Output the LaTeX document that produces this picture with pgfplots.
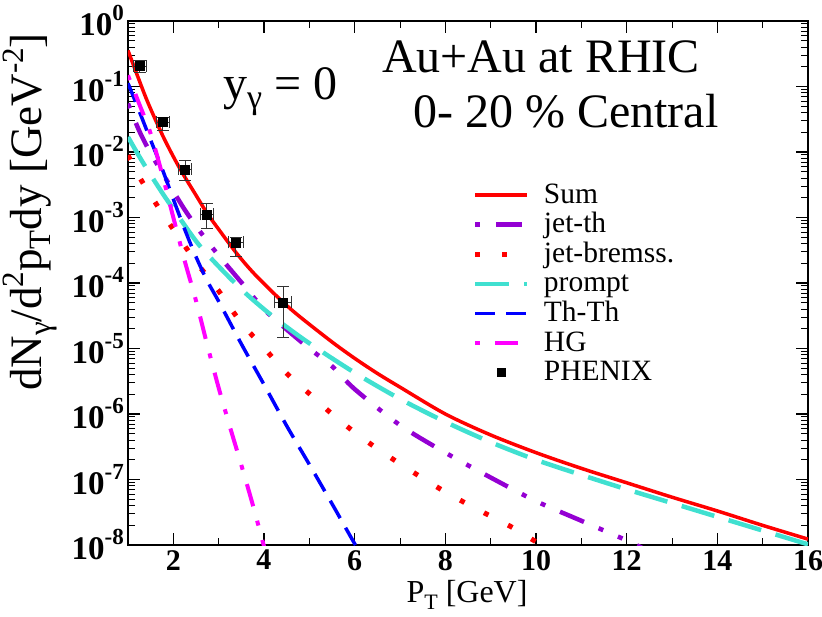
\documentclass[border=0pt]{standalone}
\usepackage{fontspec}
\setmainfont{Liberation Serif}
\usepackage{pgfplots}
\pgfplotsset{compat=1.18}
\usepackage{pgfplotstable}

\definecolor{cSum}{RGB}{255,0,0}
\definecolor{cJetTh}{RGB}{148,0,211}
\definecolor{cPrompt}{RGB}{64,224,208}
\definecolor{cThTh}{RGB}{0,0,255}
\definecolor{cHG}{RGB}{255,0,255}

\pgfplotstableread{
x y
1.0 0.3548
1.2 0.1514
1.4 0.06607
1.6 0.03162
1.8 0.01585
2.0 0.008511
2.2 0.004786
2.5 0.002188
2.74 0.001175
3.0 6.607e-4
3.4 2.818e-4
3.8 1.349e-4
4.4 5.248e-5
4.8 3.020e-5
5.5 1.259e-5
6.0 7.079e-6
6.5 4.169e-6
7.0 2.570e-6
8.0 1.0e-6
9.0 4.786e-7
10.0 2.570e-7
11.0 1.479e-7
12.0 8.913e-8
13.0 5.370e-8
14.0 3.311e-8
15.0 1.995e-8
16.0 1.230e-8
}\sumtab

\pgfplotstableread{
x y
1.0 0.05495
1.25 0.02089
1.5 0.009550
1.75 0.004898
2.0 0.002512
2.25 0.001318
2.5 7.413e-4
2.75 4.365e-4
3.0 2.630e-4
3.5 1.023e-4
4.0 3.981e-5
4.5 1.950e-5
5.0 1.0e-5
5.5 5.370e-6
6.0 2.399e-6
7.0 6.761e-7
8.0 2.570e-7
9.0 1.072e-7
10.0 4.677e-8
11.0 2.344e-8
12.0 1.175e-8
12.5 7.943e-9
}\jetthtab

\pgfplotstableread{
x y
1.0 0.008913
1.25 0.004169
1.5 0.002188
1.75 0.001175
2.0 6.607e-4
2.25 3.715e-4
2.5 2.089e-4
3.0 7.586e-5
3.5 2.455e-5
4.0 1.023e-5
4.5 4.169e-6
5.0 2.042e-6
5.5 1.0e-6
6.0 5.248e-7
6.5 2.951e-7
7.0 1.738e-7
7.5 1.047e-7
8.0 6.457e-8
8.5 4.169e-8
9.0 2.754e-8
9.5 1.820e-8
10.0 1.122e-8
10.3 8.913e-9
}\bremtab

\pgfplotstableread{
x y
1.0 0.01698
1.25 0.008511
1.5 0.004467
1.8 0.002138
2.1 0.001072
2.5 4.365e-4
2.8 2.512e-4
3.2 1.288e-4
3.6 6.918e-5
4.0 3.981e-5
4.4 2.399e-5
5.0 1.202e-5
6.0 4.266e-6
7.0 1.698e-6
8.0 7.586e-7
9.0 3.715e-7
10.0 1.995e-7
11.0 1.175e-7
12.0 7.079e-8
13.0 4.365e-8
14.0 2.692e-8
15.0 1.660e-8
16.0 1.023e-8
}\prompttab

\pgfplotstableread{
x y
1.0 0.1122
1.25 0.04169
1.5 0.01514
1.75 0.005623
2.0 0.001905
2.25 6.607e-4
2.5 2.512e-4
2.75 1.072e-4
3.0 5.248e-5
3.5 1.175e-5
4.0 2.818e-6
4.5 6.607e-7
5.0 1.698e-7
5.5 4.266e-8
6.0 1.047e-8
6.2 6.310e-9
}\ththtab

\pgfplotstableread{
x y
1.0 0.1479
1.25 0.05370
1.5 0.01905
1.75 0.004677
2.0 0.001
2.25 2.188e-4
2.5 5.370e-5
2.75 1.122e-5
3.0 2.512e-6
3.25 6.310e-7
3.5 1.660e-7
3.75 4.169e-8
4.0 9.550e-9
4.1 5.495e-9
}\hgtab

\pgfplotstableread{
x y ex eyp eym
1.26 0.205 0.15 0.048 0.039
1.77 0.0286 0.15 0.0054 0.007
2.26 5.46e-3 0.15 2.04e-3 1.76e-3
2.74 1.12e-3 0.15 5.3e-4 4.4e-4
3.38 4.18e-4 0.16 8.0e-5 1.63e-4
4.42 5.05e-5 0.18 3.85e-5 3.57e-5
}\phenixtab

\begin{document}
\begin{tikzpicture}
\begin{axis}[
  at={(0pt,0pt)}, anchor=south west,
  scale only axis, width=680pt, height=524pt,
  ymode=log, log basis y=10,
  xmin=1, xmax=16, ymin=1e-8, ymax=1,
  xtick={2,4,...,16}, minor xtick={1,3,...,15},
  ytick={1e-8,1e-7,1e-6,1e-5,1e-4,1e-3,1e-2,1e-1,1},
  minor ytick={2e-8,3e-8,4e-8,5e-8,6e-8,7e-8,8e-8,9e-8,
    2e-7,3e-7,4e-7,5e-7,6e-7,7e-7,8e-7,9e-7,
    2e-6,3e-6,4e-6,5e-6,6e-6,7e-6,8e-6,9e-6,
    2e-5,3e-5,4e-5,5e-5,6e-5,7e-5,8e-5,9e-5,
    2e-4,3e-4,4e-4,5e-4,6e-4,7e-4,8e-4,9e-4,
    2e-3,3e-3,4e-3,5e-3,6e-3,7e-3,8e-3,9e-3,
    2e-2,3e-2,4e-2,5e-2,6e-2,7e-2,8e-2,9e-2,
    0.2,0.3,0.4,0.5,0.6,0.7,0.8,0.9},
  tick align=inside, xtick pos=both, ytick pos=both,
  major tick length=12pt, minor tick length=7pt,
  major tick style={black, line width=1.2pt},
  minor tick style={black, line width=1pt},
  axis line style={line width=1.5pt},
  /pgf/number format/assume math mode=true,
  xticklabel style={font=\fontsize{30}{30}\selectfont\bfseries, inner sep=5pt},
  yticklabel={\textbf{10}\raisebox{15pt}{\fontsize{23}{23}\selectfont\bfseries\pgfmathparse{int(round(\tick))}\pgfmathresult}},
  yticklabel style={font=\fontsize{33}{33}\selectfont\bfseries, inner sep=4pt},
  legend style={at={(rel axis cs:0.507,0.695)}, anchor=north west, draw=none, fill=none,
    font=\fontsize{29.5}{29.5}\selectfont, row sep=1.6pt, column sep=14pt, inner sep=0pt,
    nodes={inner sep=0pt, text height=22pt, text depth=6pt}},
  legend cell align=left,
  legend image code/.code={\draw[#1] (0pt,0pt) -- (52pt,0pt);},
]
\addplot[cSum, line width=3.5pt, smooth] table {\sumtab};
\addlegendentry{Sum}
\addplot[cJetTh, line width=4.5pt, smooth, dash pattern=on 5pt off 16pt on 26pt off 16pt on 5pt off 16pt] table {\jetthtab};
\addlegendentry{jet-th}
\addplot[cSum, line width=5pt, smooth, dash pattern=on 5pt off 22pt] table {\bremtab};
\addlegendentry{jet-bremss.}
\addplot[cPrompt, line width=4.5pt, smooth, dash pattern=on 34pt off 15pt] table {\prompttab};
\addlegendentry{prompt}
\addplot[cThTh, line width=3.5pt, smooth, dash pattern=on 20pt off 11pt] table {\ththtab};
\addlegendentry{Th-Th}
\addplot[cHG, line width=4pt, smooth, dash pattern=on 5pt off 15pt on 23pt off 15pt] table {\hgtab};
\addlegendentry{HG}
\addplot[black, only marks, mark=square*, mark size=4.5pt,
  legend image code/.code={\path plot[mark=square*, mark size=4pt, mark options={fill=black, draw=black, solid}] coordinates {(26pt,0pt)};},
  error bars/.cd, x dir=both, y dir=both, x explicit, y explicit,
  error bar style={line width=0.9pt, black!80},
  error mark options={rotate=90, line width=0.9pt, mark size=6pt, black!80}]
  table[x=x, y=y, x error=ex, y error plus=eyp, y error minus=eym] {\phenixtab};
\addlegendentry{PHENIX}
\end{axis}
\node[anchor=base west, inner sep=0pt, font=\fontsize{48}{48}\selectfont] at (95pt,445pt)
  {y\raisebox{-9pt}{\fontsize{34}{34}\selectfont γ} = 0};
\node[anchor=base west, inner sep=0pt, font=\fontsize{48}{48}\selectfont] at (254pt,472pt) {Au+Au at RHIC};
\node[anchor=base west, inner sep=0pt, font=\fontsize{48}{48}\selectfont] at (285pt,417pt) {0- 20 \% Central};
\node[anchor=base, inner sep=0pt, font=\fontsize{32}{32}\selectfont] at (339pt,-58pt)
  {P\raisebox{-7pt}{\fontsize{22}{22}\selectfont T} [GeV]};
\node[anchor=base, rotate=90, inner sep=0pt, font=\fontsize{45}{45}\selectfont] at (-86pt,333pt)
  {dN\raisebox{-9pt}{\fontsize{31}{31}\selectfont γ}/d\raisebox{18pt}{\fontsize{31}{31}\selectfont 2}p\raisebox{-9pt}{\fontsize{31}{31}\selectfont T}dy [GeV\raisebox{18pt}{\fontsize{31}{31}\selectfont -2}]};
\pgfresetboundingbox
\path[use as bounding box] (-128pt,-72pt) rectangle (694pt,545pt);
\end{tikzpicture}
\end{document}
